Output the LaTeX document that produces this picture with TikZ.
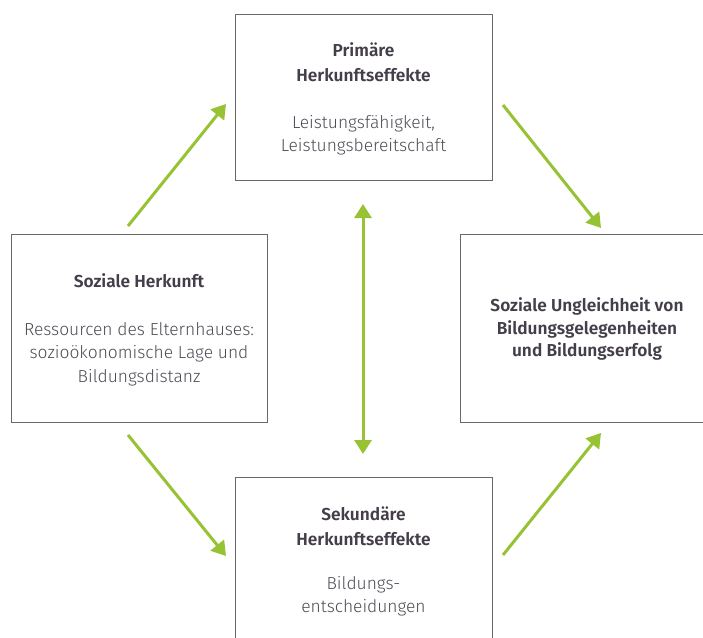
\documentclass[tikz,border=0pt]{standalone}
\usepackage{fontspec}
\setmainfont{Fira Sans Light}[BoldFont={Fira Sans SemiBold}]
\usetikzlibrary{arrows.meta}
\definecolor{grn}{RGB}{150,194,52}
\definecolor{tdark}{RGB}{68,62,74}
\definecolor{tlight}{RGB}{80,75,85}
\definecolor{bord}{RGB}{105,105,108}
\tikzset{
  box/.style={draw=bord, line width=1pt, fill=white, inner sep=0pt},
  title/.style={font=\bfseries\fontsize{17.3}{25}\selectfont, text=tdark, align=center, inner sep=0pt},
  body/.style={font=\fontsize{17.4}{23.5}\selectfont, text=tlight, align=center, inner sep=0pt},
  arr/.style={draw=grn, line width=3pt, -{Triangle[length=14pt,width=17pt]}},
  darr/.style={draw=grn, line width=3pt, {Triangle[length=14pt,width=17pt]}-{Triangle[length=14pt,width=17pt]}}
}
\begin{document}
\begin{tikzpicture}[x=1pt,y=-1pt]
\useasboundingbox (0,0) rectangle (703,637);
\begin{scope}
\clip (0,0) rectangle (703,637);
\node[box, minimum width=257pt, minimum height=166pt] (prim) at (363.5,97) {};
\node[box, minimum width=256pt, minimum height=188pt] (soz) at (139,328) {};
\node[box, minimum width=254pt, minimum height=188pt] (ung) at (587,328) {};
\node[box, minimum width=257pt, minimum height=180pt] (sek) at (363.5,567) {};

\node[title] (primT) at (363.5,62) {Primäre\\Herkunftseffekte};
\node[body] (primB) at (363.5,135) {Leistungsfähigkeit,\\Leistungsbereitschaft};

\node[title] (sozT) at (139,281) {Soziale Herkunft};
\node[body] (sozB) at (139,354) {Ressourcen des Elternhauses:\\sozioökonomische Lage und\\Bildungsdistanz};

\node[title, font=\bfseries\fontsize{17.3}{22.5}\selectfont] (ungT) at (587,329) {Soziale Ungleichheit von\\Bildungsgelegenheiten\\und Bildungserfolg};

\node[title] (sekT) at (363.5,526) {Sekundäre\\Herkunftseffekte};
\node[body] (sekB) at (363.5,596) {Bildungs-\\entscheidungen};

\coordinate (a1s) at (128,226);
\coordinate (a1e) at (226,104);
\coordinate (a2s) at (503,105);
\coordinate (a2e) at (601,228);
\coordinate (a3s) at (128,435);
\coordinate (a3e) at (226,556);
\coordinate (a4s) at (503,555);
\coordinate (a4e) at (601,433);
\coordinate (vt) at (363,204);
\coordinate (vb) at (363,454);

\draw[arr] (a1s) -- (a1e);
\draw[arr] (a2s) -- (a2e);
\draw[arr] (a3s) -- (a3e);
\draw[arr] (a4s) -- (a4e);
\draw[darr] (vt) -- (vb);
\end{scope}
\end{tikzpicture}
\end{document}
